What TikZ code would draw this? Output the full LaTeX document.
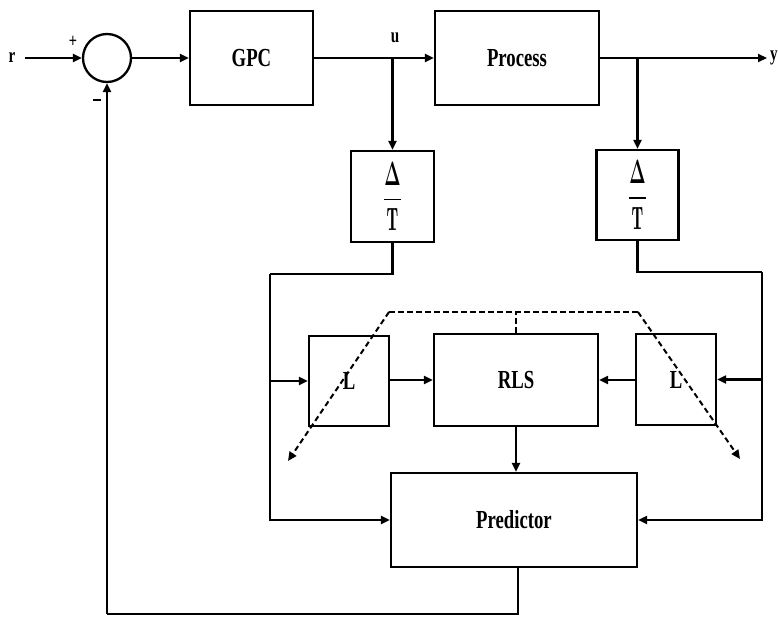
\documentclass[tikz,border=0pt]{standalone}
\usepackage{fontspec}
\usepackage{amsmath}
\newfontfamily\blk{Liberation Serif}[FakeStretch=0.72]
\usetikzlibrary{arrows.meta,calc}
\begin{document}
\begin{tikzpicture}[x=1pt,y=-1pt,
  line width=2.1pt,
  >={Triangle[length=9pt,width=8pt]},
  blockbox/.style={draw,line width=2.3pt,inner sep=0pt,font=\blk\bfseries\fontsize{26}{26}\selectfont},
  sig/.style={font=\blk\bfseries\fontsize{21}{21}\selectfont,inner sep=0pt},
  dsh/.style={dash pattern=on 5.5pt off 3.5pt,line width=2pt}]
\useasboundingbox (0,0) rectangle (778,618);
% blocks
\node[draw,circle,line width=2.3pt,minimum size=48pt,inner sep=0pt] (sum) at (107,58) {};
\node[blockbox,minimum width=123pt,minimum height=94pt] (GPC) at (251.5,58) {GPC};
\node[blockbox,minimum width=164pt,minimum height=94pt] (Proc) at (517,58) {Process};
\node[blockbox,minimum width=83pt,minimum height=91pt] (D1) at (392.5,196.5)
  {\scalebox{0.7}[1.35]{\fontsize{24}{24}\selectfont$\displaystyle\frac{\boldsymbol{\Delta}}{\mathbf{T}}$}};
\node[blockbox,minimum width=82pt,minimum height=90pt] (D2) at (637.5,195)
  {\scalebox{0.7}[1.35]{\fontsize{24}{24}\selectfont$\displaystyle\frac{\boldsymbol{\Delta}}{\mathbf{T}}$}};
\node[blockbox,minimum width=80pt,minimum height=90pt] (L1) at (349,381) {L};
\node[blockbox,minimum width=164pt,minimum height=92pt] (RLS) at (516,380) {RLS};
\node[blockbox,minimum width=80pt,minimum height=91pt] (L2) at (676,379.5) {L};
\node[blockbox,minimum width=246pt,minimum height=94pt] (Pred) at (514,520) {Predictor};
% labels
\node[sig] (rl) at (12,58) {r};
\node[sig] (yl) at (774,58) {y};
\node[sig] (ul) at (395,38) {u};
\node[sig] (pl) at (73,42) {\fontsize{20}{20}\selectfont +};
\node[sig] (ml) at (97,100) {\rule{8pt}{2pt}};
% coordinates
\coordinate (rin) at (25,58);
\coordinate (yout) at (767,58);
\coordinate (bu) at (D1.north |- GPC.east);
\coordinate (by) at (D2.north |- Proc.east);
\coordinate (lc) at (270,274);
\coordinate (rc) at (762,272);
\coordinate (fb) at (107,614);
\coordinate (pd) at (518,567);
\coordinate (dl) at (389,312);
\coordinate (dr) at (638,312);
\coordinate (dm) at (RLS.north |- dl);
\coordinate (tl) at (288,461);
\coordinate (tr) at (740,459);
% connectors
\draw[->] (rin) -- (sum.west);
\draw[->] (sum.east) -- (GPC.west);
\draw[->] (GPC.east) -- (Proc.west);
\draw[->] (Proc.east) -- (yout);
\draw[->] (bu) -- (D1.north);
\draw[->] (by) -- (D2.north);
\draw (D1.south) |- (lc);
\draw[->] (lc) |- (Pred.west);
\draw[->] (lc |- L1.west) -- (L1.west);
\draw[->] (L1.east |- RLS.west) -- (RLS.west);
\draw[->] (L2.west |- RLS.east) -- (RLS.east);
\draw (D2.south) |- (rc);
\draw[->] (rc) |- (Pred.east);
\draw[->] (rc |- L2.east) -- (L2.east);
\draw[->] (RLS.south) -- (RLS.south |- Pred.north);
\draw (pd) |- (fb);
\draw[->] (fb) -- (sum.south);
% dashed adaptation lines
\draw[dsh] (dl) -- (dr);
\draw[dsh] (RLS.north) -- (dm);
\draw[dsh,->] (dl) -- (tl);
\draw[dsh,->] (dr) -- (tr);
\end{tikzpicture}
\end{document}
